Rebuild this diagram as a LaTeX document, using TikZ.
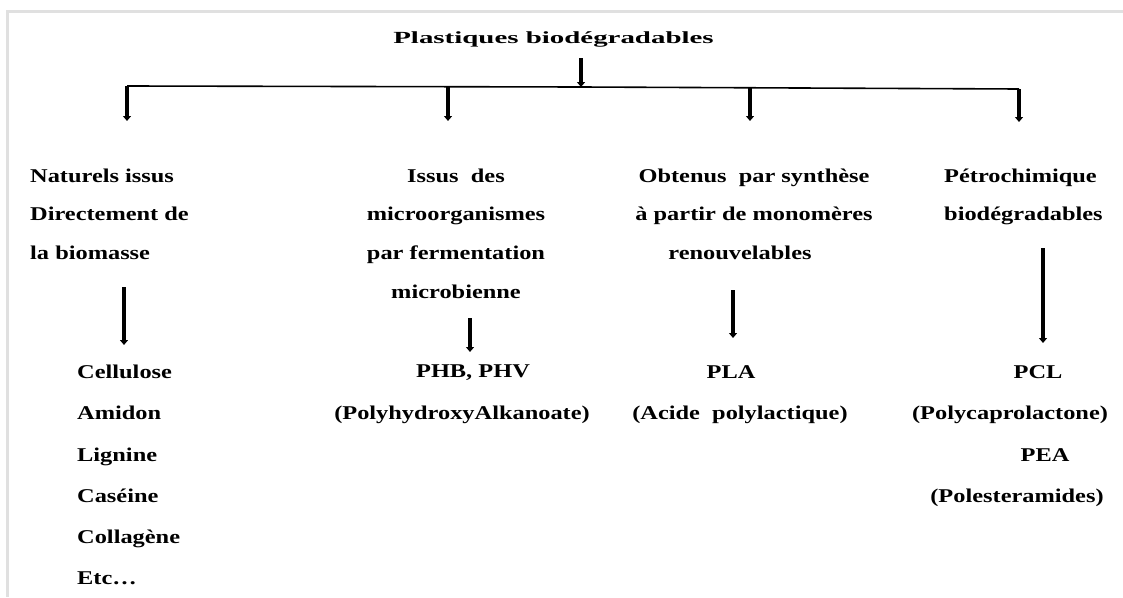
\documentclass[tikz,border=0pt]{standalone}
\usepackage{fontspec}
\setmainfont{Liberation Serif}[FakeStretch=1.25]
\newfontfamily\titlefont{Liberation Serif}[FakeStretch=1.7]
\usetikzlibrary{arrows.meta}
\begin{document}
\begin{tikzpicture}[x=1pt,y=-1pt,
  lbl/.style={inner sep=0pt, font=\bfseries\fontsize{19.5}{38.6}\selectfont},
  lst/.style={inner sep=0pt, font=\bfseries\fontsize{19.5}{41.2}\selectfont},
  ttl/.style={inner sep=0pt, font=\titlefont\bfseries\fontsize{17}{20}\selectfont},
  fatarrow/.style={line width=4pt, -{Triangle[width=8pt,length=5pt]}},
  bar/.style={line width=1.6pt},
  shadow/.style={line width=3pt, black!12}]
\useasboundingbox (0,0) rectangle (1123,597);
% page shadow
\draw[shadow] (7,597) -- (7,11) -- (1123,11);
% title
\node[ttl, anchor=base] (title) at (553.5,43) {Plastiques biodégradables};
% branching
\coordinate (t0) at (581,58);
\coordinate (hub) at (581,87);
\coordinate (h1) at (127,86);
\coordinate (h2) at (448,87);
\coordinate (h3) at (750,88);
\coordinate (h4) at (1019,89);
\coordinate (e1) at (127,121);
\coordinate (e2) at (448,121);
\coordinate (e3) at (750,121);
\coordinate (e4) at (1019,122);
\draw[fatarrow] (t0) -- (hub);
\draw[bar] (h1) -- (hub) -- (h4);
\draw[fatarrow] (h1) -- (e1);
\draw[fatarrow] (h2) -- (e2);
\draw[fatarrow] (h3) -- (e3);
\draw[fatarrow] (h4) -- (e4);
% categories
\node[lbl, anchor=north west, align=left] (nat) at (30,168.5)
  {Naturels issus\\Directement de\\la biomasse};
\node[lbl, anchor=north, align=center] (mic) at (456,168.5)
  {Issus\ \ des\\microorganismes\\par fermentation\\microbienne};
\node[lbl, anchor=north, align=center] (syn) at (754,168.5)
  {Obtenus\ \ par synthèse\\à partir de monomères\\renouvelables\hspace*{28pt}};
\node[lbl, anchor=north west, align=left] (pet) at (944,168.5)
  {Pétrochimique\\biodégradables};
% second level arrows
\coordinate (s1) at (124,287); \coordinate (f1) at (124,345);
\coordinate (s2) at (470,318); \coordinate (f2) at (470,352);
\coordinate (s3) at (733,290); \coordinate (f3) at (733,338);
\coordinate (s4) at (1043,248); \coordinate (f4) at (1043,343);
\draw[fatarrow] (s1) -- (f1);
\draw[fatarrow] (s2) -- (f2);
\draw[fatarrow] (s3) -- (f3);
\draw[fatarrow] (s4) -- (f4);
% examples
\node[lst, anchor=north west, align=left] (natl) at (77,365)
  {Cellulose\\Amidon\\Lignine\\Caséine\\Collagène\\Etc\dots};
\node[lst, anchor=north, align=center] (pha) at (462,365)
  {\hspace*{22pt}PHB, PHV\\(PolyhydroxyAlkanoate)};
\node[lst, anchor=north, align=center] (pla) at (740,365)
  {PLA\hspace*{18pt}\\(Acide\ \ polylactique)};
\node[lst, anchor=base] (pcl) at (1038,378.5) {PCL};
\node[lst, anchor=base] (pcln) at (1010,419.5) {(Polycaprolactone)};
\node[lst, anchor=base] (pea) at (1045,461.5) {PEA};
\node[lst, anchor=base] (pean) at (1017,502.5) {(Polesteramides)};
\end{tikzpicture}
\end{document}
